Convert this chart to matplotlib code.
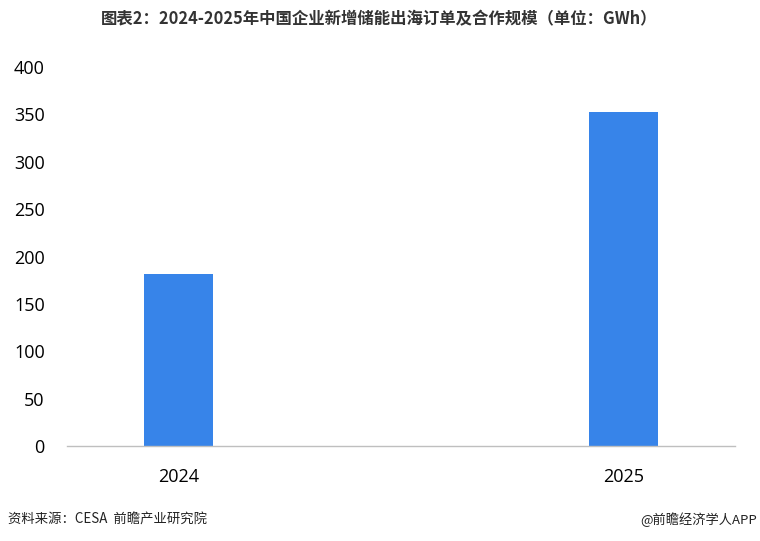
import matplotlib
matplotlib.use("Agg")
import matplotlib.pyplot as plt

plt.rcParams['font.family'] = ['Noto Sans CJK SC', 'DejaVu Sans']

years = ["2024", "2025"]
values = [182, 353]
yticks = [0, 50, 100, 150, 200, 250, 300, 350, 400]

title = "图表2：2024-2025年中国企业新增储能出海订单及合作规模（单位：GWh）"
source = "资料来源：CESA  前瞻产业研究院"
brand = "@前瞻经济学人APP"

fig = plt.figure(figsize=(7.6, 5.41), dpi=100)
ax = fig.add_axes([67 / 760, 1 - 446 / 541, 668 / 760, 379 / 541])

x = range(len(years))
ax.bar(x, values, width=0.155, color="#3784E9")
ax.set_xlim(-0.25, 1.25)
ax.set_ylim(0, 400)
ax.set_yticks(yticks)
ax.set_xticks(list(x))
ax.set_xticklabels(years)

for s in ["top", "right", "left"]:
    ax.spines[s].set_visible(False)
ax.spines["bottom"].set_color("#BFBFBF")
ax.spines["bottom"].set_linewidth(1.0)
ax.tick_params(axis="both", length=0, labelsize=13, colors="#000000")
ax.tick_params(axis="y", pad=16)
ax.tick_params(axis="x", pad=16)
for lab in ax.get_yticklabels() + ax.get_xticklabels():
    lab.set_family(["Open Sans", "DejaVu Sans"])

fig.text(379 / 760, 1 - 19 / 541, title, ha="center", va="center",
         fontsize=11.8, fontweight="bold", color="#333333")
fig.text(8 / 760, 1 - 520 / 541, source, ha="left", va="center",
         fontsize=9.6, color="#222222")
fig.text(757 / 760, 1 - 520 / 541, brand, ha="right", va="center",
         fontsize=9.5, color="#222222")

fig.savefig("out.png", dpi=100)
